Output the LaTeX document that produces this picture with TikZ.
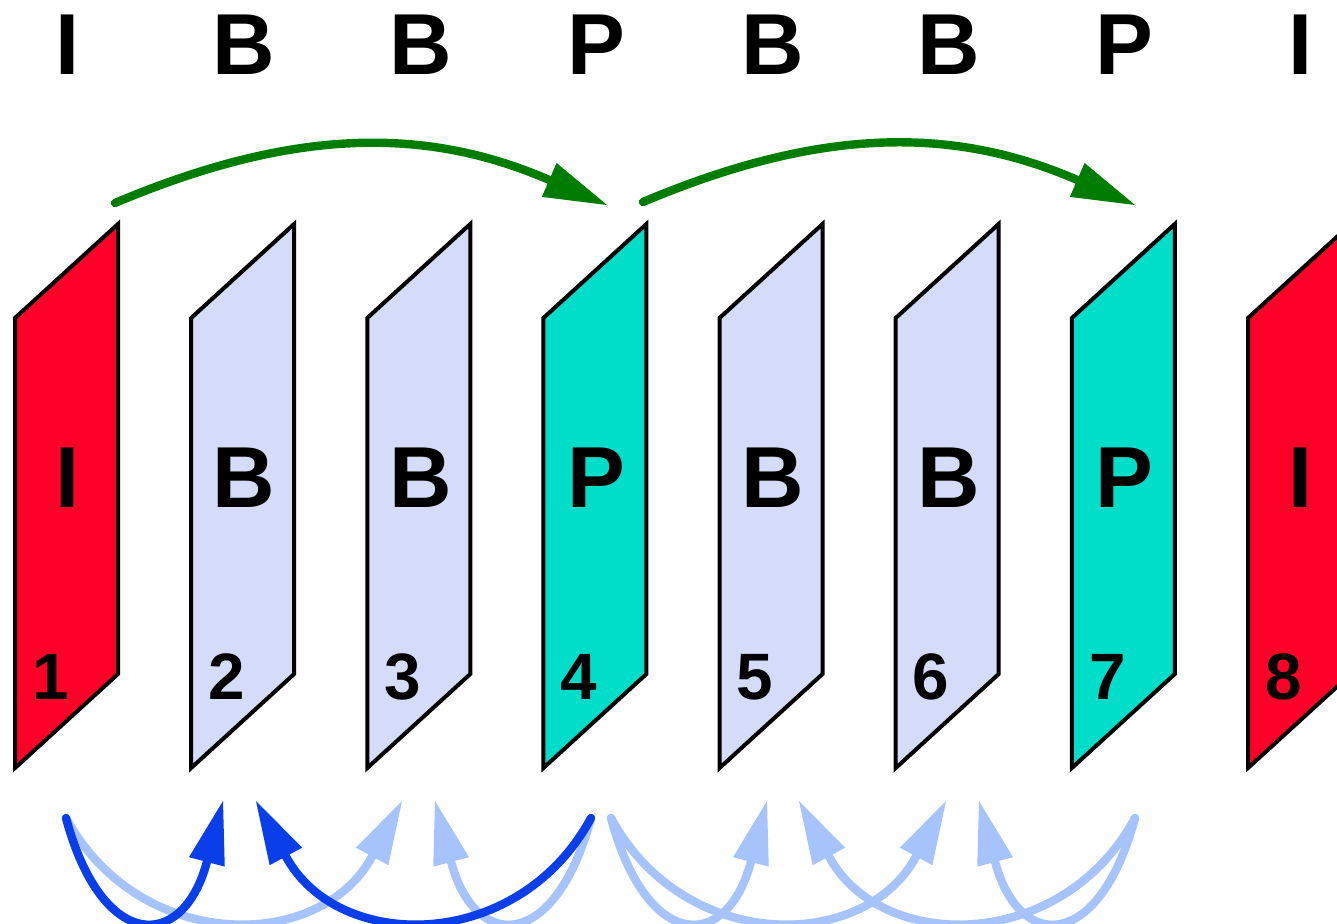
\documentclass[tikz,border=0pt]{standalone}
\usepackage{fontspec}
\setmainfont{Liberation Sans}
\usepackage{xcolor}
\usepackage{tikz}
\usetikzlibrary{arrows.meta}
\definecolor{frame_i}{RGB}{255, 0, 40}
\definecolor{frame_b}{RGB}{212, 220, 250}
\definecolor{frame_p}{RGB}{0, 221, 200}
\definecolor{pred_fwd}{RGB}{0, 125, 0}
\definecolor{pred_bi}{RGB}{10, 62, 232}
\definecolor{pred_bi_light}{RGB}{166, 195, 252}
\tikzstyle{frame} = [draw=black, line width=2pt]
\tikzstyle{typelabel} = [anchor=base, inner sep=0pt, font=\fontsize{43.3}{50}\selectfont\bfseries]
\tikzstyle{numlabel} = [anchor=base, inner sep=0pt, font=\fontsize{32.8}{38}\selectfont\bfseries]
\tikzstyle{predarrow} = [line width=4.2pt, line cap=round, -{Triangle[length=31.5pt,width=18.5pt,line width=0pt]}]

\begin{document}
\begin{tikzpicture}[x=0.5pt, y=-0.5pt]

\useasboundingbox (0,0) rectangle (1337,924);
\clip (0,0) rectangle (1337,924);

% Frames with type letter and display number
\foreach \i/\k/\c in {1/I/frame_i, 2/B/frame_b, 3/B/frame_b, 4/P/frame_p,
                      5/B/frame_b, 6/B/frame_b, 7/P/frame_p, 8/I/frame_i} {
    \pgfmathsetmacro{\lx}{15+176.14*(\i-1)}
    \draw[frame, fill=\c] (\lx,318) -- (\lx,768) -- (\lx+103,674) -- (\lx+103,224) -- cycle;
    \node[typelabel] (t\i) at (\lx+53,75) {\k};
    \node[typelabel] (m\i) at (\lx+53,507) {\k};
    \node[numlabel] (n\i) at (\lx+35.5,699) {\i};
}

% Arrow ends
\coordinate (gs1) at (115,203);
\coordinate (ge4) at (607,205);
\coordinate (gs4) at (643,202);
\coordinate (ge7) at (1135,205);

\coordinate (out1) at (66,818);
\coordinate (out4l) at (591,818);
\coordinate (out4r) at (611,818);
\coordinate (out7) at (1135,818);
\coordinate (in2l) at (223,801);
\coordinate (in2r) at (256,801);
\coordinate (in3l) at (402,801);
\coordinate (in3r) at (435,801);
\coordinate (in5l) at (767,801);
\coordinate (in5r) at (799,801);
\coordinate (in6l) at (946,801);
\coordinate (in6r) at (979,801);

% Forward prediction
\draw[predarrow, pred_fwd] (gs1) .. controls +(180,-76) and +(-180,-78) .. (ge4);
\draw[predarrow, pred_fwd] (gs4) .. controls +(180,-76) and +(-180,-78) .. (ge7);

% Bidirectional prediction
\draw[predarrow, pred_bi_light] (out1) .. controls +(73,135) and +(-82,152) .. (in3l);
\draw[predarrow, pred_bi_light] (out4l) .. controls +(-36,134) and +(40,151) .. (in3r);
\draw[predarrow, pred_bi_light] (out4r) .. controls +(36,134) and +(-40,151) .. (in5l);
\draw[predarrow, pred_bi_light] (out4r) .. controls +(73,135) and +(-82,152) .. (in6l);
\draw[predarrow, pred_bi_light] (out7) .. controls +(-73,135) and +(82,152) .. (in5r);
\draw[predarrow, pred_bi_light] (out7) .. controls +(-36,134) and +(40,151) .. (in6r);
\draw[predarrow, pred_bi] (out1) .. controls +(36,134) and +(-40,151) .. (in2l);
\draw[predarrow, pred_bi] (out4l) .. controls +(-73,135) and +(82,152) .. (in2r);

\end{tikzpicture}
\end{document}
